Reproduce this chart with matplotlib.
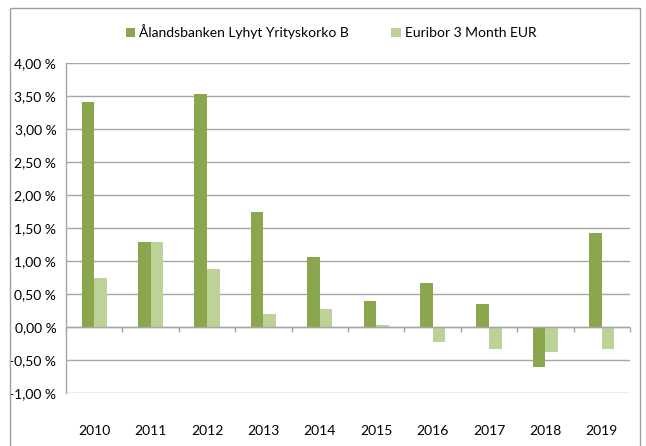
import matplotlib
matplotlib.use("Agg")
import matplotlib.pyplot as plt
from matplotlib.patches import Rectangle
import numpy as np

years = ["2010", "2011", "2012", "2013", "2014", "2015", "2016", "2017", "2018", "2019"]
alandsbanken = [3.41, 1.29, 3.53, 1.74, 1.06, 0.39, 0.67, 0.35, -0.61, 1.42]
euribor = [0.74, 1.29, 0.88, 0.20, 0.27, 0.03, -0.23, -0.33, -0.38, -0.33]
series_names = ["Ålandsbanken Lyhyt Yrityskorko B", "Euribor 3 Month EUR"]
yticks = [-1.0, -0.5, 0.0, 0.5, 1.0, 1.5, 2.0, 2.5, 3.0, 3.5, 4.0]

dark = "#8AA74E"
light = "#BCD297"
grid = "#A6A6A6"

plt.rcParams['font.family'] = ['Lato', 'DejaVu Sans']

fig = plt.figure(figsize=(6.46, 4.46), dpi=100)
fig.patches.append(Rectangle((10/646, -0.01), 630/646, 1 - 8/446 + 0.01,
                             transform=fig.transFigure, fill=False,
                             edgecolor="#A0A0A0", linewidth=1.0))
ax = fig.add_axes([66/646, 1 - 393/446, 564/646, 330/446])

x = np.arange(len(years))
w = 0.225
ax.bar(x - w/2, alandsbanken, w, color=dark, label=series_names[0], zorder=3)
ax.bar(x + w/2, euribor, w, color=light, label=series_names[1], zorder=3)

ax.set_xlim(-0.5, len(years) - 0.5)
ax.set_ylim(-1.0, 4.0)
ax.set_yticks(yticks)
ax.set_yticklabels([f"{v:.2f}".replace(".", ",") + " %" for v in yticks])
ax.yaxis.grid(True, color=grid, linewidth=1.0, zorder=0)
ax.set_xticks(x)
ax.set_xticklabels(years)
ax.tick_params(axis="x", length=0, pad=23, labelsize=10, colors="black")
ax.tick_params(axis="y", length=0, pad=7, labelsize=10)

for s in ["top", "right", "bottom"]:
    ax.spines[s].set_visible(False)
ax.spines["left"].set_color(grid)
ax.spines["left"].set_linewidth(1.0)

ax.axhline(0, color=grid, linewidth=1.0, zorder=4)
bounds = np.arange(len(years) + 1) - 0.5
ax.vlines(bounds, -0.075, 0, color=grid, linewidth=1.0, zorder=4, clip_on=False)

fig.legend(loc="center", bbox_to_anchor=(331/646, 1 - 32/446), ncol=2, frameon=False,
           fontsize=10, handlelength=0.7, handleheight=0.7, handletextpad=0.3,
           columnspacing=3.0)

fig.savefig("out.png", dpi=100)
